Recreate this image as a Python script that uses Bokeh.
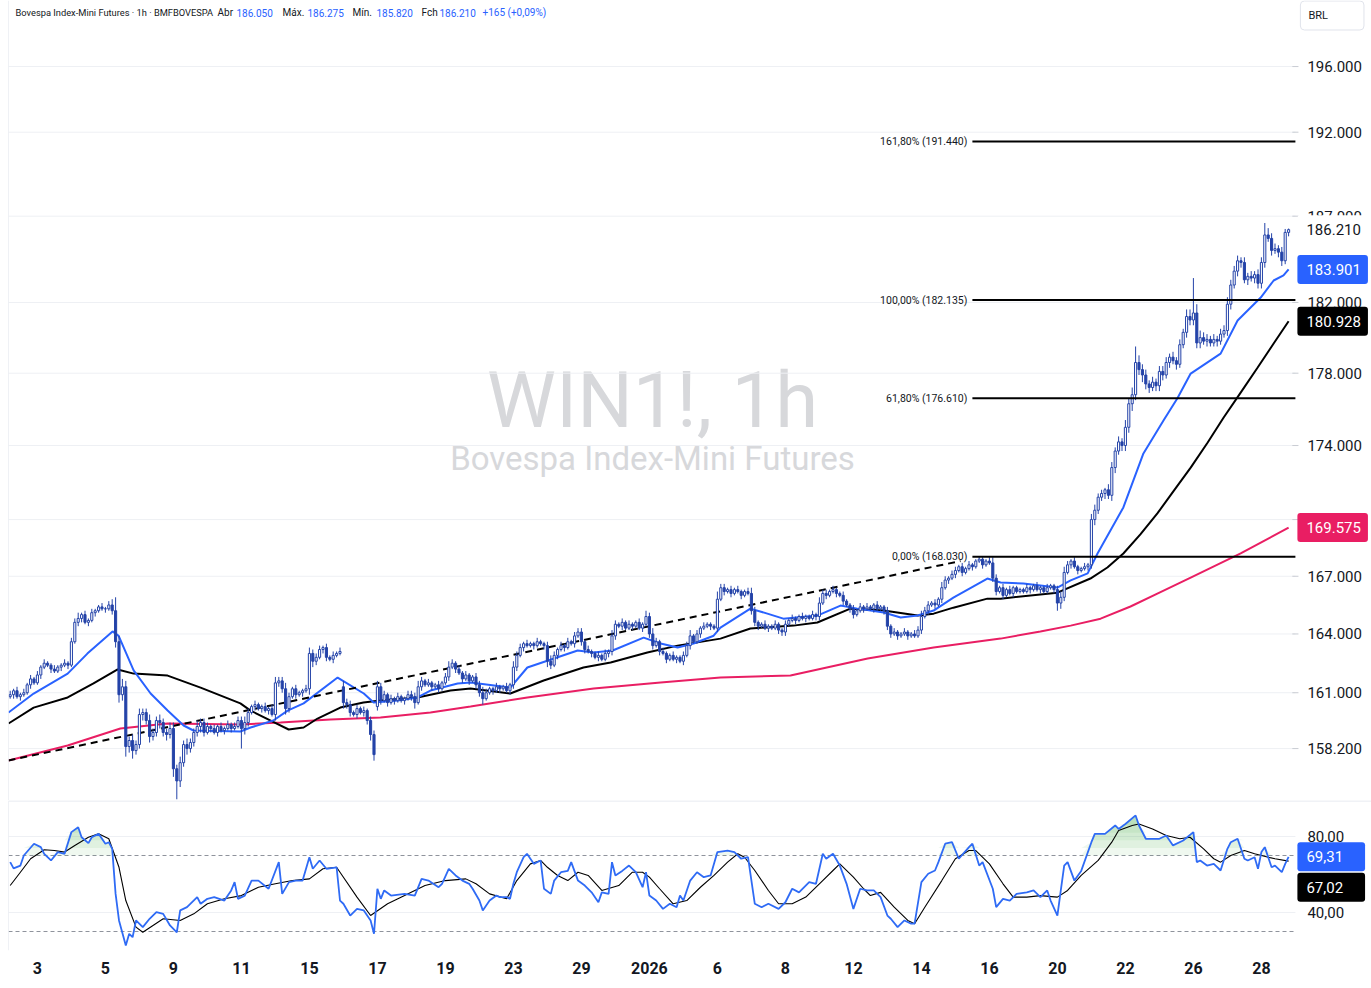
import numpy as np
from bokeh.plotting import figure
from bokeh.layouts import column
from bokeh.models import Range1d, FixedTicker, Label, Span, ColumnDataSource
from bokeh.embed import file_html
from bokeh.resources import INLINE

# ---------------- DATA (prices in thousands of points) ----------------
first_open = 160.8
closes = [
    # Dec 2
    160.9, 161.1, 160.8, 160.9, 161.0, 161.4, 161.7, 161.5,
    # Dec 3
    161.9, 162.3, 162.5, 162.4, 162.2, 162.1, 162.3, 162.4, 162.5, 162.4,
    # Dec 4
    163.6, 164.6, 164.8, 165.0, 164.6, 164.7, 165.1, 165.2, 165.4, 165.3,
    # Dec 5
    165.3, 165.5, 165.2, 163.6, 160.9, 161.3, 158.3, 158.6, 158.1, 158.4,
    # Dec 8
    159.9, 160.0, 159.6, 158.8, 159.0, 159.6, 159.5, 159.0, 158.9, 159.2,
    # Dec 9
    157.2, 156.6, 157.5, 158.4, 158.2, 158.5, 159.0, 159.3, 159.5, 159.0,
    # Dec 10
    159.3, 159.2, 159.0, 159.3, 159.1, 159.2, 159.4, 159.2, 159.3, 159.6,
    # Dec 11
    159.2, 159.5, 160.0, 160.3, 160.4, 160.2, 160.3, 160.1, 160.2, 159.9,
    # Dec 12
    161.5, 161.6, 161.2, 160.2, 160.8, 161.2, 160.9, 161.0, 161.1, 161.2,
    # Dec 15
    163.0, 162.6, 162.8, 163.2, 163.3, 162.8, 162.7, 162.9, 163.0, 163.1,
    # Dec 16
    160.5, 160.4, 160.0, 159.9, 160.2, 160.0, 160.1, 159.6, 158.9, 157.9,
    # Dec 17
    161.3, 160.6, 160.9, 160.5, 160.7, 160.6, 160.8, 160.6, 160.7, 160.9,
    # Dec 18
    160.8, 160.5, 161.3, 161.6, 161.4, 161.5, 161.3, 161.4, 161.2, 161.5,
    # Dec 19
    161.8, 162.3, 162.5, 162.2, 162.0, 161.7, 161.9, 161.6, 161.8, 161.4,
    # Dec 22
    161.0, 160.7, 161.0, 161.2, 161.1, 161.3, 161.2, 161.3, 161.1, 161.4,
    # Dec 23
    162.3, 162.9, 163.3, 163.5, 163.4, 163.5, 163.4, 163.6, 163.5, 163.4,
    # Dec 24 / 26
    162.6, 162.4, 162.9, 163.2, 163.4, 163.3, 163.6, 163.5, 163.9, 164.1,
    # Dec 29
    163.6, 163.2, 163.1, 163.0, 162.8, 162.9, 162.7, 163.0, 163.1, 163.9,
    # Dec 30
    164.5, 164.4, 164.6, 164.3, 164.5, 164.4, 164.6, 164.3, 164.5, 164.9,
    # Jan 2
    164.0, 163.4, 163.6, 163.1, 163.0, 162.7, 162.9, 162.7, 162.8, 162.6,
    # Jan 5
    162.9, 163.4, 163.9, 163.6, 164.0, 164.3, 164.4, 164.5, 164.4, 164.3,
    # Jan 6
    165.8, 166.4, 166.2, 166.3, 166.1, 166.3, 166.2, 166.0, 166.2, 166.1,
    # Jan 7
    165.2, 164.6, 164.4, 164.5, 164.3, 164.4, 164.3, 164.5, 164.2, 164.1,
    # Jan 8
    164.5, 164.7, 164.8, 164.7, 164.9, 164.8, 164.9, 164.8, 165.0, 164.9,
    # Jan 9
    165.6, 166.1, 166.0, 166.2, 166.3, 166.1, 166.0, 165.7, 165.5, 165.3,
    # Jan 12
    165.0, 165.2, 165.4, 165.3, 165.4, 165.3, 165.5, 165.3, 165.4, 165.2,
    # Jan 13
    164.4, 164.0, 164.1, 163.9, 164.0, 164.1, 163.9, 164.0, 163.9, 164.2,
    # Jan 14
    164.9, 165.2, 165.5, 165.6, 165.5, 165.8, 166.4, 166.8, 166.9, 167.1,
    # Jan 15
    167.3, 167.5, 167.2, 167.4, 167.6, 167.5, 167.8, 167.9, 167.6, 167.8,
    # Jan 16
    167.7, 166.9, 166.2, 166.4, 166.0, 166.3, 166.1, 166.4, 166.2, 166.3,
    # Jan 19
    166.2, 166.4, 166.3, 166.5, 166.3, 166.4, 166.2, 166.4, 166.5, 166.3,
    # Jan 20
    165.6, 165.9, 167.2, 167.6, 167.8, 167.5, 167.3, 167.4, 167.5, 167.6,
    # Jan 21
    170.0, 170.5, 171.2, 171.4, 171.6, 171.3, 172.8, 173.7, 174.2, 174.0,
    # Jan 22
    175.0, 176.3, 176.8, 178.6, 178.2, 177.9, 177.4, 177.2, 177.5, 177.3,
    # Jan 23
    178.1, 177.9, 178.6, 178.9, 178.7, 178.5, 179.6, 180.3, 181.2, 181.0,
    # Jan 26
    181.4, 179.7, 180.0, 179.8, 179.9, 179.7, 179.9, 179.8, 180.2, 180.4,
    # Jan 27
    181.9, 183.0, 183.8, 184.4, 184.3, 183.3, 183.5, 183.4, 183.6, 183.1,
    # Jan 28
    184.3, 185.9, 185.7, 185.0, 185.1, 184.9, 184.4, 186.05, 186.21,
]
up_wick = [
    .2, .1, .2, .1, .2, .1, .2, .1,
    .2, .1, .2, .1, .1, .2, .1, .1, .2, .1,
    .2, .2, .3, .1, .2, .1, .2, .1, .1, .2,
    .1, .2, .3, .7, .3, .4, .3, .2, .3, .2,
    .3, .2, .2, .3, .2, .2, .3, .2, .2, .3,
    .3, .2, .3, .2, .3, .2, .2, .3, .2, .2,
    .2, .1, .2, .1, .2, .1, .2, .1, .2, .2,
    .2, .3, .2, .1, .2, .1, .1, .2, .1, .2,
    .3, .2, .2, .3, .2, .1, .2, .1, .1, .2,
    .3, .2, .2, .2, .1, .2, .1, .2, .1, .2,
    .3, .2, .2, .1, .2, .1, .2, .1, .2, .2,
    .3, .2, .2, .1, .2, .1, .2, .1, .1, .2,
    .2, .2, .3, .2, .1, .2, .1, .1, .2, .1,
    .2, .3, .2, .1, .2, .1, .2, .1, .1, .2,
    .2, .3, .2, .1, .1, .2, .1, .1, .2, .1,
    .3, .2, .2, .1, .2, .1, .1, .2, .1, .1,
    .2, .3, .2, .1, .2, .1, .2, .1, .2, .2,
    .2, .1, .2, .1, .1, .2, .1, .2, .1, .3,
    .2, .1, .2, .1, .2, .1, .1, .2, .1, .3,
    .2, .3, .2, .1, .2, .1, .1, .2, .1, .1,
    .2, .2, .3, .1, .2, .1, .2, .1, .1, .1,
    .4, .2, .2, .1, .2, .1, .2, .1, .1, .2,
    .3, .2, .1, .1, .2, .1, .1, .2, .1, .1,
    .2, .1, .2, .1, .1, .2, .1, .1, .2, .1,
    .3, .2, .2, .1, .2, .1, .1, .2, .1, .1,
    .2, .1, .2, .1, .2, .1, .1, .2, .1, .1,
    .2, .1, .2, .1, .1, .2, .1, .1, .2, .2,
    .3, .2, .2, .1, .2, .1, .3, .2, .1, .2,
    .2, .1, .2, .1, .2, .1, .1, .13, .1, .1,
    .2, .3, .2, .1, .2, .1, .2, .1, .1, .1,
    .1, .2, .1, .1, .2, .1, .1, .2, .1, .1,
    .2, .3, .3, .2, .1, .2, .1, .1, .2, .1,
    .3, .3, .2, .2, .1, .3, .3, .2, .3, .2,
    .4, .3, .4, .9, .4, .3, .3, .2, .3, .2,
    .3, .3, .3, .2, .3, .2, .3, .2, .4, .4,
    2.0, .5, .4, .3, .3, .2, .3, .2, .3, .3,
    .4, .3, .3, .3, .2, .3, .2, .3, .2, .3,
    .3, .7, .4, .3, .3, .2, .3, .2, .065,
]
lo_wick = [
    .1, .2, .1, .2, .1, .1, .2, .1,
    .1, .2, .1, .1, .2, .1, .1, .2, .1, .2,
    .1, .1, .2, .2, .1, .2, .1, .2, .1, .1,
    .2, .1, .2, .3, .4, .3, .5, .3, .4, .2,
    .2, .3, .2, .3, .2, .2, .3, .2, .3, .2,
    .4, .9, .3, .2, .3, .2, .2, .2, .3, .2,
    .1, .2, .1, .2, .1, .2, .1, .2, .1, .1,
    1.0, .3, .2, .1, .2, .1, .2, .1, .2, .1,
    .3, .2, .2, .3, .2, .1, .2, .1, .2, .1,
    .3, .3, .2, .1, .2, .2, .1, .2, .1, .1,
    .3, .2, .2, .1, .2, .1, .2, .2, .3, .3,
    .2, .2, .1, .2, .1, .2, .1, .1, .2, .1,
    .2, .3, .1, .2, .1, .1, .2, .1, .2, .1,
    .1, .2, .1, .2, .1, .2, .1, .2, .1, .2,
    .2, .3, .1, .1, .2, .1, .2, .1, .1, .2,
    .2, .2, .1, .2, .1, .1, .2, .1, .1, .2,
    .3, .2, .1, .2, .1, .2, .1, .1, .2, .1,
    .2, .2, .1, .2, .1, .2, .1, .1, .2, .2,
    .2, .1, .2, .1, .1, .2, .1, .1, .2, .1,
    .2, .2, .1, .2, .1, .2, .1, .1, .2, .1,
    .2, .1, .2, .1, .1, .2, .1, .1, .2, .1,
    .2, .1, .2, .1, .2, .1, .1, .2, .1, .1,
    .2, .2, .2, .1, .1, .2, .1, .1, .2, .2,
    .2, .1, .1, .2, .1, .1, .2, .1, .1, .2,
    .2, .1, .2, .1, .1, .2, .1, .2, .1, .2,
    .2, .1, .1, .2, .1, .1, .2, .1, .1, .2,
    .2, .2, .1, .2, .1, .1, .2, .1, .1, .1,
    .2, .1, .2, .1, .2, .1, .2, .1, .2, .1,
    .2, .1, .2, .1, .1, .2, .1, .1, .2, .1,
    .1, .2, .2, .1, .2, .1, .1, .2, .1, .1,
    .1, .1, .2, .1, .1, .2, .1, .1, .1, .2,
    .4, .3, .2, .1, .2, .1, .2, .1, .1, .2,
    .2, .3, .2, .2, .3, .2, .3, .3, .2, .3,
    .3, .3, .4, .3, .3, .4, .3, .3, .2, .3,
    .3, .3, .2, .3, .2, .3, .2, .2, .3, .3,
    .3, .3, .3, .2, .3, .2, .2, .3, .2, .2,
    .3, .3, .2, .3, .3, .2, .3, .2, .3, .3,
    .3, .3, .2, .3, .2, .3, .3, .2, .23,
]
gap_open_bars = [98, 108]
gap_open_vals = [161.3, 160.3]

# moving averages: (bar index, value)
ema_fast_pts = [(-0.5, 160.0), (6.9, 160.96), (16.9, 161.97), (22.7, 162.99), (30.1, 164.13),
                (31.9, 163.9), (36.3, 162.13), (41.3, 160.96), (46.3, 160.10), (51.0, 159.35),
                (53.9, 159.10), (67.7, 159.05), (70.7, 159.25), (77.4, 159.60), (81.6, 160.10),
                (86.3, 160.46), (96.3, 161.77), (104.0, 160.96), (106.9, 160.51), (113.9, 160.61),
                (119.8, 160.76), (123.6, 161.11), (131.6, 161.47), (135.4, 161.52), (147.1, 161.26),
                (152.1, 162.28), (166.9, 163.15), (171.6, 163.05), (177.2, 163.15), (186.3, 163.81),
                (191.3, 163.51), (196.3, 163.30), (201.0, 163.51), (206.9, 163.91), (208.9, 164.33),
                (217.7, 165.31), (222.7, 165.05), (227.4, 164.79), (237.4, 164.95), (244.2, 165.47),
                (249.2, 165.31), (256.9, 165.11), (261.9, 164.85), (266.9, 164.95), (271.6, 165.21),
                (277.4, 165.88), (287.4, 166.88), (291.3, 166.67), (298.0, 166.62), (308.0, 166.41),
                (311.9, 166.78), (316.9, 167.15), (319.8, 168.20), (327.4, 170.65), (333.3, 173.57),
                (339.2, 175.37), (343.3, 176.6), (347.2, 177.98), (356.0, 179.1), (361.0, 180.97),
                (367.8, 182.28), (371.6, 183.26), (374.5, 183.55), (376.0, 183.901)]
ema_mid_pts = [(-0.5, 159.45), (6.9, 160.25), (16.9, 160.76), (24.5, 161.47), (31.6, 162.18),
               (36.3, 161.97), (46.3, 161.87), (56.0, 161.26), (67.7, 160.46), (70.7, 160.10),
               (76.6, 159.60), (81.9, 159.15), (86.3, 159.25), (90.4, 159.70), (97.1, 160.25),
               (103.9, 160.51), (108.9, 160.61), (119.8, 160.76), (129.5, 161.11), (135.4, 161.21),
               (147.1, 160.96), (156.9, 161.62), (168.6, 162.28), (176.6, 162.54), (187.4, 163.05),
               (196.3, 163.40), (208.9, 163.76), (217.7, 164.28), (230.4, 164.43), (237.4, 164.59),
               (247.1, 165.31), (256.9, 165.21), (266.9, 164.95), (271.6, 165.05), (277.4, 165.36),
               (287.4, 165.83), (291.3, 165.83), (308.0, 166.14), (317.7, 166.88), (322.7, 167.46),
               (327.4, 168.20), (332.4, 169.21), (337.4, 170.33), (342.1, 171.51), (347.2, 172.80),
               (352.2, 174.17), (356.9, 175.54), (361.9, 176.92), (366.9, 178.32), (371.6, 179.67),
               (376.0, 180.928)]
ema_slow_pts = [(-0.5, 157.61), (16.9, 158.35), (32.4, 159.2), (46.3, 159.45), (67.7, 159.40),
                (79.5, 159.50), (94.2, 159.65), (108.9, 159.75), (123.6, 160.00), (135.4, 160.30),
                (152.1, 160.76), (171.6, 161.21), (191.3, 161.52), (208.9, 161.77), (229.5, 161.87),
                (252.2, 162.74), (271.6, 163.30), (291.3, 163.76), (303.0, 164.13), (311.9, 164.43),
                (320.7, 164.79), (329.5, 165.42), (337.4, 166.09), (347.2, 166.93), (361.9, 168.20),
                (376.0, 169.575)]
trend_pts = [(-0.5, 157.61), (279.5, 167.8)]

fib_names = ["0,00%", "61,80%", "100,00%", "161,80%"]
fib_vals = [168.03, 176.61, 182.135, 191.44]
fib_start_bar = 283

rsi_pts = [(0, 66.5), (1, 63.2), (3, 64.7), (4, 70.0), (7, 76.2), (9, 74.4), (10, 70.9), (12, 67.4),
           (14, 71.8), (16, 70.9), (18, 82.3), (20, 84.9), (21, 79.6), (23, 76.5), (24, 79.6), (26, 81.4),
           (28, 76.2), (29, 77.0), (30, 73.5), (31, 49.8), (32, 35.8), (34, 22.6), (35, 28.8), (36, 27.0),
           (37, 35.8), (39, 32.3), (41, 36.7), (43, 40.2), (45, 39.3), (47, 33.2), (49, 29.6), (50, 41.1),
           (52, 42.8), (55, 48.1), (56, 44.6), (58, 47.2), (60, 48.1), (63, 46.3), (65, 51.6), (66, 56.0),
           (67, 47.2), (69, 48.9), (71, 56.8), (73, 56.8), (76, 52.5), (79, 66.5), (80, 49.8), (82, 56.0),
           (84, 56.8), (86, 56.8), (88, 69.1), (89, 63.0), (91, 67.4), (93, 63.0), (96, 63.8), (97, 46.3),
           (98, 44.6), (100, 38.4), (102, 41.9), (104, 41.1), (106, 35.8), (107, 28.8), (108, 52.5),
           (109, 47.2), (110, 51.6), (112, 48.9), (116, 49.8), (119, 48.9), (121, 57.7), (123, 56.8),
           (126, 53.3), (127, 55.1), (129, 63.0), (131, 59.5), (133, 56.8), (135, 55.1), (136, 52.5),
           (138, 46.3), (139, 41.1), (141, 46.3), (143, 48.9), (144, 48.1), (146, 48.1), (147, 47.2),
           (148, 55.1), (149, 61.2), (151, 69.1), (152, 70.9), (154, 65.6), (156, 67.4), (157, 52.5),
           (159, 49.8), (160, 56.8), (162, 61.2), (164, 61.9), (165, 66.5), (167, 56.8), (169, 54.2),
           (171, 50.6), (173, 45.4), (174, 50.6), (176, 49.8), (177, 66.5), (178, 59.5), (180, 61.9),
           (182, 64.7), (184, 61.2), (186, 53.3), (187, 61.2), (188, 48.9), (190, 46.3), (192, 41.9),
           (194, 44.6), (196, 42.8), (197, 48.9), (198, 46.3), (200, 56.8), (202, 61.2), (204, 58.6),
           (206, 59.5), (208, 71.8), (211, 72.6), (213, 71.8), (215, 68.3), (217, 69.1), (219, 44.6),
           (221, 42.8), (223, 44.6), (226, 41.9), (228, 45.4), (230, 52.5), (232, 50.6), (235, 56.0),
           (237, 55.1), (239, 70.9), (240, 68.3), (242, 70.9), (244, 64.7), (246, 55.1), (248, 41.9),
           (250, 52.5), (252, 51.6), (254, 51.6), (256, 48.1), (258, 38.4), (259, 36.7), (261, 32.3),
           (263, 35.8), (265, 34.1), (266, 34.1), (268, 56.0), (270, 60.4), (272, 62.1), (273, 66.5),
           (275, 76.2), (277, 77.0), (279, 68.3), (282, 74.4), (283, 76.2), (285, 64.7), (286, 66.5),
           (289, 52.5), (290, 42.8), (292, 47.2), (294, 46.3), (296, 49.8), (299, 50.6), (301, 51.6),
           (303, 48.1), (305, 51.6), (306, 46.3), (308, 38.4), (309, 51.6), (310, 64.7), (311, 66.5),
           (313, 56.8), (315, 61.9), (318, 77.0), (319, 81.4), (322, 81.4), (325, 85.8), (326, 84.0),
           (328, 86.6), (331, 91.1), (332, 85.8), (334, 78.8), (336, 78.8), (338, 78.8), (340, 80.5),
           (342, 75.3), (345, 77.9), (348, 82.3), (349, 66.5), (350, 67.4), (352, 64.7), (354, 65.6),
           (356, 62.1), (358, 73.5), (359, 77.0), (361, 78.8), (363, 68.3), (364, 67.4), (366, 69.1),
           (367, 63.0), (368, 71.8), (369, 74.4), (371, 63.8), (372, 64.7), (374, 61.2), (375, 65.6),
           (376, 69.31)]
rsi_ma_pts = [(0, 54.2), (3, 61.2), (6, 68.3), (10, 73.0), (13, 72.6), (16, 71.8), (19, 75.3), (23, 79.6),
              (26, 81.4), (29, 78.8), (32, 63.8), (34, 46.3), (37, 32.3), (39, 29.6), (42, 33.2), (45, 36.7),
              (50, 35.8), (54, 39.3), (58, 44.6), (63, 47.2), (68, 48.9), (73, 53.3), (78, 55.1), (83, 56.8),
              (88, 57.7), (92, 63.0), (96, 63.8), (97, 61.2), (102, 48.1), (106, 38.4), (111, 44.6),
              (116, 48.9), (122, 54.2), (128, 56.8), (134, 57.7), (137, 55.1), (141, 49.8), (146, 47.2),
              (149, 56.8), (153, 65.6), (156, 67.4), (158, 63.8), (161, 59.5), (164, 56.8), (167, 61.2),
              (170, 59.5), (174, 51.6), (179, 54.2), (183, 61.2), (186, 61.2), (188, 58.6), (191, 52.5),
              (195, 44.6), (199, 46.3), (203, 53.3), (207, 59.5), (211, 66.5), (214, 70.9), (216, 69.1),
              (219, 62.1), (223, 51.6), (226, 44.6), (230, 44.6), (234, 48.1), (238, 55.1), (242, 62.1),
              (244, 65.6), (248, 58.6), (251, 52.5), (253, 48.9), (256, 50.6), (260, 42.8), (264, 35.8),
              (266, 34.1), (269, 42.8), (274, 56.8), (278, 68.3), (282, 72.6), (284, 72.6), (288, 65.6),
              (292, 55.1), (295, 48.1), (299, 48.1), (303, 48.9), (308, 48.1), (311, 51.6), (315, 59.5),
              (320, 67.4), (324, 77.0), (326, 83.2), (330, 85.8), (332, 86.6), (336, 84.0), (340, 80.5),
              (344, 78.8), (347, 79.6), (351, 73.5), (354, 68.3), (356, 66.5), (359, 70.0), (363, 72.6),
              (366, 70.9), (370, 69.1), (372, 68.3), (376, 67.02)]

date_tick_bars = [8, 28, 48, 68, 88, 108, 128, 148, 168, 188, 208, 228, 248, 268, 288, 308, 328, 348, 368]
date_tick_labels = ["3", "5", "9", "11", "15", "17", "19", "23", "29", "2026", "6", "8", "12", "14",
                    "16", "20", "22", "26", "28"]
price_ticks = [196.0, 192.0, 187.0, 182.0, 178.0, 174.0, 170.0, 167.0, 164.0, 161.0, 158.2]
rsi_ticks = [40, 80]
rsi_levels = [30, 70]
header_change = "+165 (+0,09%)"

# ---------------- STYLE / LAYOUT ----------------
FONT = "Roboto"
DARK = "#131722"
BLUE = "#2962ff"
CANDLE = "#2443a8"
PX_PER_BAR = 3.4
X0 = -0.5            # left edge of the chart frame
X1 = 378.0           # boundary between chart and price scale
XR = X0 + 1363 / PX_PER_BAR   # frame extends under the price scale

n = len(closes)
opens = [first_open] + closes[:-1]
for b, v in zip(gap_open_bars, gap_open_vals):
    opens[b] = v
highs = [max(o, c) + u for o, c, u in zip(opens, closes, up_wick)]
lows = [min(o, c) - d for o, c, d in zip(opens, closes, lo_wick)]
up_idx = [i for i in range(n) if closes[i] >= opens[i]]
dn_idx = [i for i in range(n) if closes[i] < opens[i]]


def csrc(ids):
    return ColumnDataSource(dict(
        x=list(ids),
        top=[max(opens[i], closes[i]) for i in ids],
        bottom=[min(opens[i], closes[i]) for i in ids],
        high=[highs[i] for i in ids],
        low=[lows[i] for i in ids]))


def pts(a):
    return [q[0] for q in a], [q[1] for q in a]


def tag(fig, y, text, bg, fg, yoff=0, right=7):
    fig.add_layout(Label(x=X1, y=y, text=text, x_offset=2, y_offset=yoff, text_align="left",
                         text_baseline="middle", text_font=FONT, text_font_size="15px",
                         text_color=fg, background_fill_color=bg, background_fill_alpha=1.0,
                         padding=dict(left=9, right=right, top=9, bottom=9), border_radius=3))


def scale_label(fig, y, text):
    fig.add_layout(Label(x=X1, y=y, text=text, x_offset=12, text_align="left",
                         text_baseline="middle", text_font=FONT, text_font_size="15px",
                         text_color=DARK))


p = figure(width=1371, height=800, y_axis_type="log", output_backend="svg",
           toolbar_location=None, x_axis_location=None, y_axis_location=None,
           x_range=Range1d(X0, XR), y_range=Range1d(155.64, 200.11),
           min_border_left=8, min_border_right=0, min_border_top=0, min_border_bottom=0)
p.outline_line_color = None
p.background_fill_color = "white"
p.border_fill_color = "white"
p.grid.visible = False

# grid
p.segment(x0=[X0] * len(price_ticks), x1=[X1] * len(price_ticks), y0=price_ticks, y1=price_ticks,
          line_color="#eef0f4", line_width=1)
p.segment(x0=[X1 - 0.9] * len(price_ticks), x1=[X1 + 0.9] * len(price_ticks), y0=price_ticks,
          y1=price_ticks, line_color="#c9ccd3", line_width=1)
p.add_layout(Span(location=X0, dimension="height", line_color="#e0e3eb", line_width=1))

# watermark
p.add_layout(Label(x=188.9, y=176.48, text="WIN1!, 1h", text_align="center",
                   text_baseline="alphabetic", text_font=FONT, text_font_size="78px",
                   text_color="#d7d8db", level="underlay"))
p.add_layout(Label(x=188.9, y=173.29, text="Bovespa Index-Mini Futures", text_align="center",
                   text_baseline="alphabetic", text_font=FONT, text_font_size="33px",
                   text_color="#d7d8db", level="underlay"))

# moving averages and trend line
bx, by = pts(ema_slow_pts)
p.line(bx, by, line_color="#e91e63", line_width=2)
bx, by = pts(ema_mid_pts)
p.line(bx, by, line_color="#000000", line_width=2)
bx, by = pts(ema_fast_pts)
p.line(bx, by, line_color="#2962ff", line_width=2)
bx, by = pts(trend_pts)
p.line(bx, by, line_color="#000000", line_width=2, line_dash="7 5")

# candles
su, sd = csrc(up_idx), csrc(dn_idx)
for s in (su, sd):
    p.segment(x0="x", y0="low", x1="x", y1="high", source=s, line_color=CANDLE, line_width=1)
p.vbar(x="x", width=0.62, top="top", bottom="bottom", source=su,
       fill_color="white", line_color=CANDLE, line_width=1)
p.vbar(x="x", width=0.62, top="top", bottom="bottom", source=sd,
       fill_color=CANDLE, line_color=CANDLE, line_width=1)

# fibonacci levels
for name, v in zip(fib_names, fib_vals):
    p.line([fib_start_bar, X1], [v, v], line_color="#000000", line_width=2)
    p.add_layout(Label(x=fib_start_bar, y=v, text=f"{name} ({v:.3f})", text_align="right",
                       text_baseline="middle", x_offset=-5, text_font=FONT,
                       text_font_size="10.5px", text_color=DARK))

# header
o_s, h_s, l_s, c_s = (f"{opens[-1]:.3f}", f"{highs[-1]:.3f}", f"{lows[-1]:.3f}", f"{closes[-1]:.3f}")
header_parts = [("Bovespa Index-Mini Futures · 1h · BMFBOVESPA", 15, DARK, "9.3px"),
                ("Abr", 217, DARK, "10px"), (o_s, 236, BLUE, "10px"),
                ("Máx.", 282, DARK, "10px"), (h_s, 307, BLUE, "10px"),
                ("Mín.", 352, DARK, "10px"), (l_s, 376, BLUE, "10px"),
                ("Fch", 421, DARK, "10px"), (c_s, 439, BLUE, "10px"),
                (header_change, 482, BLUE, "10px")]
for txt, px, col, fs in header_parts:
    p.add_layout(Label(x=X0, y=199.35, text=txt, x_offset=px - 8, text_baseline="middle",
                       text_font=FONT, text_font_size=fs, text_color=col))

# price scale
for t in price_ticks:
    scale_label(p, t, f"{t:.3f}")
p.add_layout(Label(x=X1, y=199.17, text="BRL", x_offset=5, text_baseline="middle",
                   text_font=FONT, text_font_size="11px", text_color=DARK,
                   border_line_color="#e0e3eb", background_fill_color="white",
                   padding=dict(left=8, right=36, top=8, bottom=8), border_radius=4))
tag(p, closes[-1], f"{closes[-1]:.3f}", "white", DARK)
tag(p, ema_fast_pts[-1][1], f"{ema_fast_pts[-1][1]:.3f}", BLUE, "white")
tag(p, ema_mid_pts[-1][1], f"{ema_mid_pts[-1][1]:.3f}", "#000000", "white")
tag(p, ema_slow_pts[-1][1], f"{ema_slow_pts[-1][1]:.3f}", "#e91e63", "white")

# ---------------- RSI panel ----------------
r = figure(width=1371, height=188, output_backend="svg", toolbar_location=None,
           x_range=p.x_range, y_range=Range1d(20, 98.95), y_axis_location=None,
           min_border_left=8, min_border_right=0, min_border_top=0, min_border_bottom=38)
r.outline_line_color = None
r.background_fill_color = "white"
r.border_fill_color = "white"
r.grid.visible = False
r.xaxis.ticker = FixedTicker(ticks=date_tick_bars)
r.xaxis.major_label_overrides = {b: t for b, t in zip(date_tick_bars, date_tick_labels)}
r.xaxis.major_label_text_font = FONT
r.xaxis.major_label_text_font_style = "bold"
r.xaxis.major_label_text_font_size = "16px"
r.xaxis.major_label_text_color = DARK
r.xaxis.axis_line_color = None
r.xaxis.major_tick_line_color = None
r.xaxis.minor_tick_line_color = None
r.xaxis.major_label_standoff = 5

r.segment(x0=[X0] * len(rsi_ticks), x1=[X1] * len(rsi_ticks), y0=rsi_ticks, y1=rsi_ticks,
          line_color="#eef0f4", line_width=1)
r.segment(x0=[X0] * len(rsi_levels), x1=[X1] * len(rsi_levels), y0=rsi_levels, y1=rsi_levels,
          line_color="#8f939c", line_width=1, line_dash="4 3")
r.add_layout(Span(location=98.7, dimension="width", line_color="#e0e3eb", line_width=1))
r.add_layout(Span(location=X0, dimension="height", line_color="#e0e3eb", line_width=1))

rx, ry = pts(rsi_pts)
ry_arr = np.array(ry)
for base in (70, 74, 78, 82, 86):
    r.varea(x=rx, y1=[base] * len(rx), y2=np.maximum(ry_arr, base), fill_color="#4caf50",
            fill_alpha=0.09)
mx, my = pts(rsi_ma_pts)
r.line(mx, my, line_color="#000000", line_width=1.1)
r.line(rx, ry, line_color="#2f6bf5", line_width=1.8)

for t in rsi_ticks:
    scale_label(r, t, f"{t:.2f}".replace(".", ","))
rsi_last = rsi_pts[-1][1]
ma_last = rsi_ma_pts[-1][1]
tag(r, rsi_last, f"{rsi_last:.2f}".replace(".", ","), BLUE, "white", right=22)
tag(r, ma_last, f"{ma_last:.2f}".replace(".", ","), "#000000", "white", yoff=-26, right=22)

layout = column(p, r, spacing=0)
open("out.html", "w").write(file_html(layout, INLINE))
